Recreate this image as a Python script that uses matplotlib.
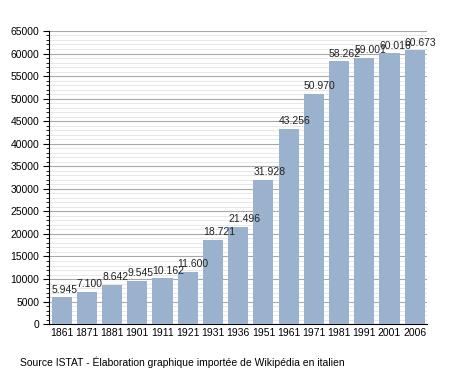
import matplotlib
matplotlib.use("Agg")
import matplotlib.pyplot as plt
from matplotlib.ticker import MultipleLocator

years = ["1861", "1871", "1881", "1901", "1911", "1921", "1931", "1936",
         "1951", "1961", "1971", "1981", "1991", "2001", "2006"]
population = [5945, 7100, 8642, 9545, 10162, 11600, 18721, 21496,
              31928, 43256, 50970, 58262, 59001, 60016, 60673]
labels = ["5.945", "7.100", "8.642", "9.545", "10.162", "11.600", "18.721", "21.496",
          "31.928", "43.256", "50.970", "58.262", "59.001", "60.016", "60.673"]
source = "Source ISTAT - \u00c9laboration graphique import\u00e9e de Wikip\u00e9dia en italien"

plt.rcParams['font.family'] = ['Liberation Sans', 'DejaVu Sans']

fig = plt.figure(figsize=(4.55, 3.73), dpi=100)
ax = fig.add_axes([0.108, 0.131, 0.831, 0.786])

x = list(range(len(years)))
ax.bar(x, population, width=0.8, color="#9ab2ce", zorder=3)
ax.set_xlim(-0.5, len(years) - 0.5)
ax.set_ylim(0, 65000)
ax.set_xticks(x)
ax.set_xticklabels(years, fontsize=7.5)
ax.yaxis.set_major_locator(MultipleLocator(5000))
ax.yaxis.set_minor_locator(MultipleLocator(1000))
ax.tick_params(axis='y', which='major', length=4, width=0.8, labelsize=7.5, direction='out', pad=3)
ax.tick_params(axis='y', which='minor', length=2, width=0.6, direction='out')
ax.tick_params(axis='x', length=0, pad=3)
ax.grid(axis='y', which='major', color="#a8a8a8", linewidth=0.8, zorder=0)
ax.grid(axis='y', which='minor', color="#e4e4e4", linewidth=0.6, zorder=0)
for s in ['top', 'right']:
    ax.spines[s].set_visible(False)
ax.spines['left'].set_linewidth(0.8)
ax.spines['bottom'].set_linewidth(0.8)

for xi, v, lab in zip(x, population, labels):
    ax.annotate(lab, (xi - 0.4, v), xytext=(0, 2), textcoords='offset points',
                ha='left', va='bottom', fontsize=7.5, color="#222222", zorder=4)

fig.text(20 / 455, 1 - 362 / 373, source, fontsize=7.5, ha='left', va='center')

fig.savefig("out.png", dpi=100)
